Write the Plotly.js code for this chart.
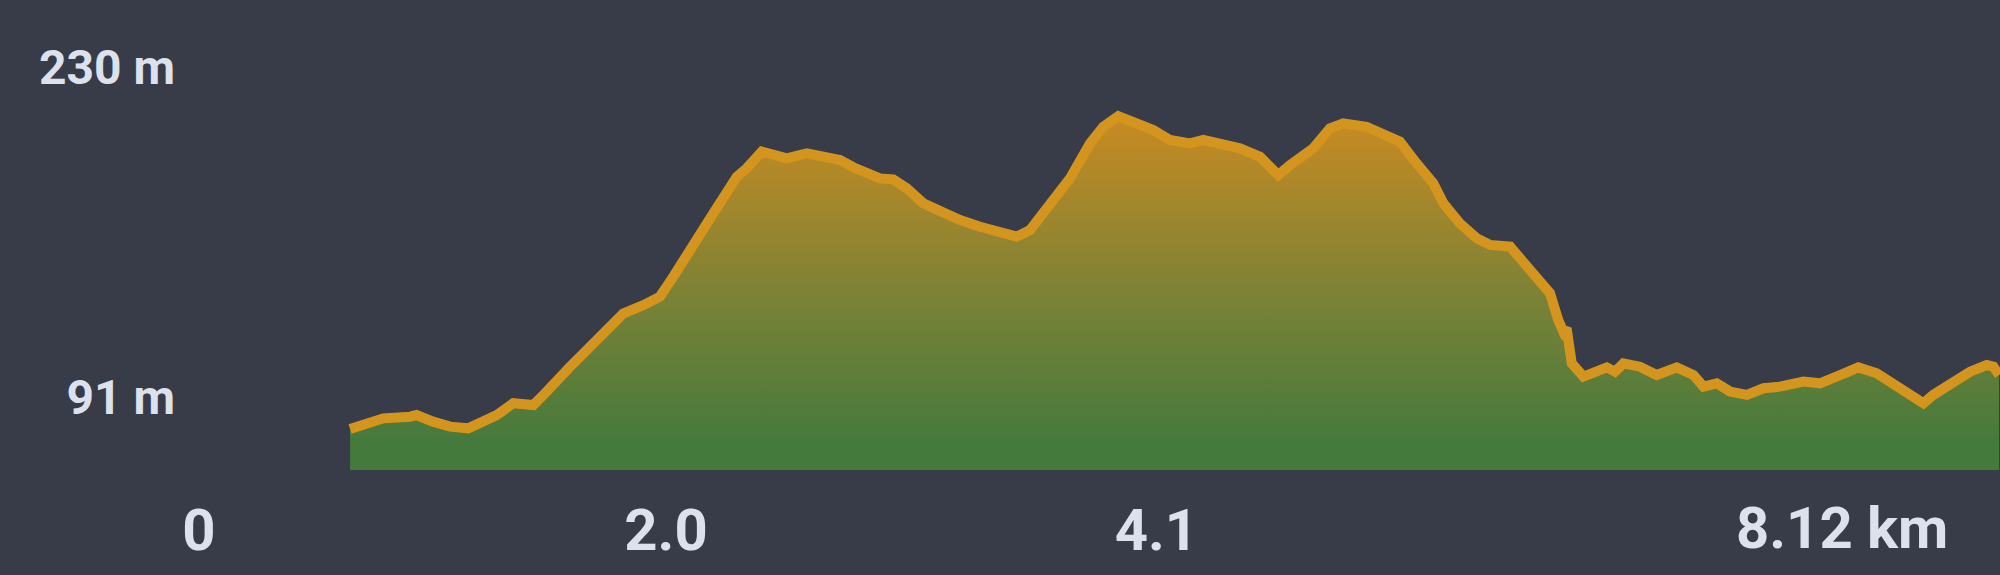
<!DOCTYPE html>
<html>
<head>
<meta charset="utf-8">
<script src="https://cdn.plot.ly/plotly-3.0.1.min.js"></script>
<style>
  html, body { margin: 0; padding: 0; background: #383b48; }
  #chart { width: 2000px; height: 575px; }
</style>
</head>
<body>
<div id="chart"></div>
<script>
// Distance along the route (km) and elevation (m)
const distKm = [0.647,0.718,0.789,0.904,0.932,1.002,1.075,1.153,1.218,1.275,1.346,1.389,1.432,1.475,1.517,1.589,1.632,1.717,1.817,1.903,1.974,2.031,2.117,2.203,2.303,2.346,2.410,2.460,2.517,2.603,2.660,2.745,2.802,2.916,2.973,3.031,3.102,3.173,3.259,3.345,3.430,3.502,3.559,3.630,3.687,3.730,3.816,3.873,3.937,4.001,4.087,4.158,4.244,4.301,4.373,4.458,4.544,4.622,4.672,4.715,4.772,4.843,4.900,5.000,5.086,5.143,5.214,5.286,5.329,5.400,5.472,5.529,5.615,5.686,5.743,5.786,5.821,5.843,5.857,5.879,5.929,5.972,6.029,6.064,6.100,6.171,6.243,6.329,6.400,6.443,6.500,6.557,6.629,6.700,6.771,6.871,6.942,7.028,7.106,7.185,7.242,7.313,7.385,7.427,7.499,7.585,7.656,7.685,7.709];
const elevM = [77.4,79.8,81.9,82.6,83.3,80.5,78.4,77.7,80.5,83.3,88.3,88.3,87.5,91.8,96.7,103.7,107.9,116.4,126.2,129.7,133.3,141.7,155.8,168.5,183.9,187.5,194.5,193.1,191.7,193.8,192.6,191.0,187.9,183.2,182.8,179.0,172.7,169.1,165.6,162.8,160.7,158.6,161.4,170.6,178.3,183.2,198.0,205.0,209.5,207.1,203.6,199.4,198.0,199.4,198.0,195.9,192.3,184.6,188.8,191.7,195.9,204.3,206.4,205.0,201.5,198.7,189.6,181.1,172.7,164.2,157.9,155.1,154.4,146.6,139.7,134.7,123.4,118.5,120.0,105.1,99.5,100.9,103.4,101.6,105.1,103.7,100.2,103.4,100.2,95.3,96.7,93.2,91.8,94.6,95.3,97.4,96.7,100.2,103.4,100.9,97.4,91.8,88.3,91.8,96.0,101.6,104.4,103.7,100.2];

// Axis labels
const xTickVals = [0, 2.0, 4.1];
const xTickText = ['0', '2.0', '4.1'];
const totalLabel = '8.12 km';
const yTickVals = [91, 230];
const yTickText = ['91 m', '230 m'];

const textColor = '#dde1ec';
const bg = '#383b48';

const trace = {
  x: distKm,
  y: elevM,
  type: 'scatter',
  mode: 'lines',
  fill: 'tozeroy',
  line: { color: '#d4951f', width: 10 },
  fillgradient: {
    type: 'vertical',
    start: 72,
    stop: 210,
    colorscale: [[0, '#457a3d'], [0.45, '#7c8236'], [1, '#c98b22']]
  },
  hoverinfo: 'skip'
};

const layout = {
  width: 2000,
  height: 575,
  paper_bgcolor: bg,
  plot_bgcolor: bg,
  showlegend: false,
  margin: { l: 176, r: 0, t: 0, b: 105 },
  xaxis: {
    range: [-0.0985, 7.713],
    showgrid: false, zeroline: false, showline: false,
    tickmode: 'array', tickvals: xTickVals, ticktext: xTickText,
    ticks: 'outside', ticklen: 9, tickcolor: 'rgba(0,0,0,0)',
    tickfont: { family: 'Roboto', size: 58, color: textColor, weight: 700 },
    fixedrange: true
  },
  yaxis: {
    range: [60.1, 258.5],
    showgrid: false, zeroline: false, showline: false,
    tickmode: 'array', tickvals: yTickVals, ticktext: yTickText,
    ticks: '',
    tickfont: { family: 'Roboto', size: 48, color: textColor, weight: 700 },
    fixedrange: true
  },
  annotations: [{
    text: totalLabel,
    xref: 'paper', yref: 'paper',
    x: (1950 - 176) / (2000 - 176), y: (470 - 528) / 470,
    xanchor: 'right', yanchor: 'middle',
    showarrow: false,
    font: { family: 'Roboto', size: 58, color: textColor, weight: 700 }
  }]
};

Plotly.newPlot('chart', [trace], layout, { displayModeBar: false, staticPlot: true });
</script>
</body>
</html>
